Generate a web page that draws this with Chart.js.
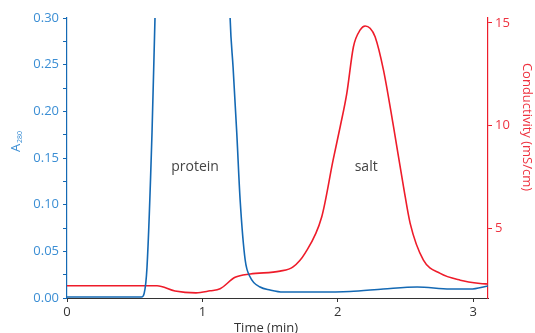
<!DOCTYPE html>
<html>
<head>
<meta charset="utf-8">
<script src="https://cdn.jsdelivr.net/npm/chart.js@4"></script>
<style>
  html, body { margin: 0; padding: 0; background: #fff; }
  #wrap { width: 535px; height: 333px; position: relative; }
</style>
</head>
<body>
<div id="wrap"><canvas id="chart"></canvas></div>
<script>
// A280 trace (time in min, absorbance)
const timeA = [0, 0.3, 0.55, 0.57, 0.591, 0.628, 0.65, 0.7, 0.8, 0.95, 1.1, 1.18, 1.205, 1.227, 1.254, 1.279, 1.316, 1.353, 1.426, 1.5, 1.596, 1.848, 2.09, 2.336, 2.587, 2.83, 2.98, 3.11];
const a280 = [0.001, 0.001, 0.001, 0.005, 0.033, 0.177, 0.30, 0.55, 0.9, 1.0, 0.8, 0.45, 0.30, 0.247, 0.177, 0.105, 0.041, 0.0225, 0.0118, 0.0086, 0.0064, 0.0064, 0.007, 0.0096, 0.0118, 0.0096, 0.0096, 0.0129];

// conductivity trace (time in min, mS/cm)
const timeC = [0, 0.665, 0.798, 0.953, 1.057, 1.131, 1.242, 1.353, 1.574, 1.67, 1.759, 1.882, 1.966, 2.018, 2.067, 2.116, 2.166, 2.203, 2.239, 2.276, 2.338, 2.412, 2.486, 2.535, 2.633, 2.757, 2.905, 3.052, 3.112];
const conductivity = [2.19, 2.19, 1.93, 1.84, 1.94, 2.04, 2.6, 2.76, 2.9, 3.11, 3.78, 5.55, 8.32, 9.94, 11.57, 13.84, 14.66, 14.85, 14.74, 14.33, 12.7, 9.94, 7.01, 5.23, 3.44, 2.79, 2.46, 2.3, 2.27];

const xTicks = [0, 1, 2, 3];
const leftTicks = [0, 0.025, 0.05, 0.075, 0.1, 0.125, 0.15, 0.175, 0.2, 0.225, 0.25, 0.275, 0.3];
const rightTicks = [5, 10, 15];

const labels = [
    { text: 'protein', x: 0.946, y: 0.14 },
    { text: 'salt', x: 2.21, y: 0.14 }
];

const BLUE = '#1469b4';
const BLUE_TEXT = '#3b8ed4';
const RED = '#ee1c2a';
const RED_TEXT = '#ee3340';
const FONT = '"Open Sans", sans-serif';

const textPlugin = {
    id: 'texts',
    afterDraw(chart) {
        const { ctx, scales } = chart;
        ctx.save();
        // peak labels
        ctx.fillStyle = '#444';
        ctx.font = '14px ' + FONT;
        ctx.textAlign = 'center';
        ctx.textBaseline = 'middle';
        labels.forEach(l => {
            ctx.fillText(l.text, scales.x.getPixelForValue(l.x), scales.yA.getPixelForValue(l.y));
        });

        // x title
        ctx.fillStyle = '#333';
        ctx.font = '13px ' + FONT;
        ctx.fillText('Time (min)', 266, 328);

        // left title A280
        ctx.translate(15, 145);
        ctx.rotate(-Math.PI / 2);
        ctx.fillStyle = BLUE_TEXT;
        ctx.textAlign = 'left';
        ctx.textBaseline = 'alphabetic';
        ctx.font = '13px ' + FONT;
        ctx.fillText('A', -7, 5);
        ctx.font = '7px ' + FONT;
        ctx.fillText('280', 2, 7);
        ctx.restore();

        // right title
        ctx.save();
        ctx.translate(527, 127);
        ctx.rotate(Math.PI / 2);
        ctx.fillStyle = RED_TEXT;
        ctx.font = '13px ' + FONT;
        ctx.textAlign = 'center';
        ctx.textBaseline = 'middle';
        ctx.fillText('Conductivity (mS/cm)', 0, 0);
        ctx.restore();
    }
};

new Chart(document.getElementById('chart'), {
    type: 'line',
    data: {
        datasets: [
            {
                label: 'A280',
                data: timeA.map((t, i) => ({ x: t, y: a280[i] })),
                yAxisID: 'yA',
                borderColor: BLUE,
                borderWidth: 1.6,
                pointRadius: 0,
                cubicInterpolationMode: 'monotone',
                fill: false
            },
            {
                label: 'Conductivity',
                data: timeC.map((t, i) => ({ x: t, y: conductivity[i] })),
                yAxisID: 'yC',
                borderColor: RED,
                borderWidth: 1.6,
                pointRadius: 0,
                cubicInterpolationMode: 'monotone',
                fill: false
            }
        ]
    },
    options: {
        responsive: true,
        maintainAspectRatio: false,
        animation: false,
        layout: { padding: { top: 18, left: 0, right: 0, bottom: 0 } },
        plugins: {
            legend: { display: false },
            tooltip: { enabled: false }
        },
        scales: {
            x: {
                type: 'linear',
                min: 0,
                max: 3.11,
                afterBuildTicks: s => { s.ticks = xTicks.map(v => ({ value: v })); },
                afterFit: s => { s.height = 35; },
                grid: { drawOnChartArea: false, color: '#333', tickLength: 4, tickColor: '#333' },
                border: { color: '#333', width: 1 },
                ticks: { color: '#333', font: { family: FONT, size: 13 }, padding: 2 }
            },
            yA: {
                position: 'left',
                min: 0,
                max: 0.3,
                afterBuildTicks: s => { s.ticks = leftTicks.map(v => ({ value: v })); },
                afterFit: s => { s.width = 67; },
                grid: { drawOnChartArea: false, tickLength: 4, tickColor: BLUE },
                border: { color: BLUE, width: 1.2 },
                ticks: {
                    color: BLUE_TEXT,
                    font: { family: FONT, size: 13 },
                    padding: 4,
                    autoSkip: false,
                    callback: v => (Math.round(v * 1000) % 50 === 0 ? v.toFixed(2) : '')
                }
            },
            yC: {
                position: 'right',
                min: 1.59,
                max: 15.24,
                afterBuildTicks: s => { s.ticks = rightTicks.map(v => ({ value: v })); },
                afterFit: s => { s.width = 47; },
                grid: { drawOnChartArea: false, tickLength: 4, tickColor: RED },
                border: { color: RED, width: 1.2 },
                ticks: { color: RED_TEXT, font: { family: FONT, size: 13 }, padding: 3 }
            }
        }
    },
    plugins: [textPlugin]
});
</script>
</body>
</html>
